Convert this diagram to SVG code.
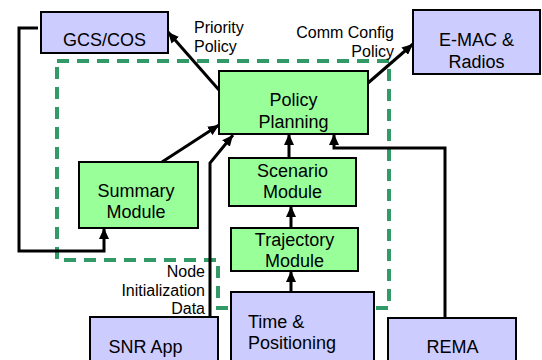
<svg xmlns="http://www.w3.org/2000/svg" width="542" height="360" viewBox="0 0 542 360">
  <style>
    .box { stroke: #000; stroke-width: 2; }
    .core { fill: #99ff99; }
    .ext { fill: #ccccff; }
    .lbl { font-family: "Liberation Sans", Arial, sans-serif; font-size: 18px; fill: #000; text-anchor: middle; }
    .left { text-anchor: start; }
    .note { font-family: "Liberation Sans", Arial, sans-serif; font-size: 16px; fill: #000; }
    .wire { fill: none; stroke: #000; stroke-width: 3; stroke-linejoin: miter; }
    .boundary { fill: none; stroke: #339966; stroke-width: 4; stroke-dasharray: 12 8; }
  </style>
  <defs>
    <marker id="arrow" markerUnits="userSpaceOnUse" markerWidth="12" markerHeight="10" refX="11" refY="5" orient="auto">
      <path d="M0,0 L11,5 L0,10 Z" fill="#000"/>
    </marker>
  </defs>

  <rect width="542" height="360" fill="#fff"/>

  <!-- dashed subsystem boundary -->
  <path class="boundary" d="M57,61 L389,61 L389,308 L218,308 L218,260 L57,260 Z"/>

  <g id="gcs-cos">
    <rect class="box ext" x="41" y="12" width="127" height="41"/>
    <text class="lbl" x="104.5" y="46">GCS/COS</text>
  </g>

  <g id="emac-radios">
    <rect class="box ext" x="413" y="10" width="127" height="64"/>
    <text class="lbl" x="476.5" y="46">E-MAC &amp;</text>
    <text class="lbl" x="476.5" y="68">Radios</text>
  </g>

  <g id="policy-planning">
    <rect class="box core" x="219" y="71" width="149" height="63"/>
    <text class="lbl" x="293.5" y="106">Policy</text>
    <text class="lbl" x="293.5" y="128">Planning</text>
  </g>

  <g id="summary-module">
    <rect class="box core" x="79" y="162" width="119" height="66"/>
    <text class="lbl" x="136" y="197">Summary</text>
    <text class="lbl" x="136" y="218">Module</text>
  </g>

  <g id="scenario-module">
    <rect class="box core" x="229" y="158" width="127" height="48"/>
    <text class="lbl" x="292.5" y="177">Scenario</text>
    <text class="lbl" x="292.5" y="198">Module</text>
  </g>

  <g id="trajectory-module">
    <rect class="box core" x="231" y="228" width="127" height="43"/>
    <text class="lbl" x="294.5" y="246">Trajectory</text>
    <text class="lbl" x="294.5" y="267">Module</text>
  </g>

  <g id="time-positioning">
    <rect class="box ext" x="231" y="292" width="143" height="72"/>
    <text class="lbl left" x="248" y="328">Time &amp;</text>
    <text class="lbl left" x="248" y="349">Positioning</text>
  </g>

  <g id="snr-app">
    <rect class="box ext" x="90" y="317" width="128" height="47"/>
    <text class="lbl" x="145.5" y="353">SNR App</text>
  </g>

  <g id="rema">
    <rect class="box ext" x="388" y="318" width="128" height="46"/>
    <text class="lbl" x="452.5" y="353">REMA</text>
  </g>

  <g id="connectors">
    <line class="wire" x1="219" y1="90" x2="168" y2="32" marker-end="url(#arrow)"/>
    <line class="wire" x1="368" y1="83" x2="413" y2="44" marker-end="url(#arrow)"/>
    <line class="wire" x1="162" y1="162" x2="219" y2="125" marker-end="url(#arrow)"/>
    <path class="wire" d="M210,318 L210,163 L233,135" marker-end="url(#arrow)"/>
    <line class="wire" x1="289" y1="158" x2="289" y2="134" marker-end="url(#arrow)"/>
    <line class="wire" x1="291" y1="228" x2="291" y2="206" marker-end="url(#arrow)"/>
    <line class="wire" x1="291" y1="292" x2="291" y2="271" marker-end="url(#arrow)"/>
    <path class="wire" d="M445,318 L445,148 L334,148 L334,134" marker-end="url(#arrow)"/>
    <path class="wire" d="M38,28 L19,28 L19,251 L104,251 L104,228" marker-end="url(#arrow)"/>

    <text class="note" x="194" y="33">Priority</text>
    <text class="note" x="194" y="52">Policy</text>
    <text class="note" x="394" y="38" text-anchor="end">Comm Config</text>
    <text class="note" x="394" y="57" text-anchor="end">Policy</text>
    <text class="note" x="205" y="277" text-anchor="end">Node</text>
    <text class="note" x="205" y="296" text-anchor="end">Initialization</text>
    <text class="note" x="205" y="314" text-anchor="end">Data</text>
  </g>
</svg>
